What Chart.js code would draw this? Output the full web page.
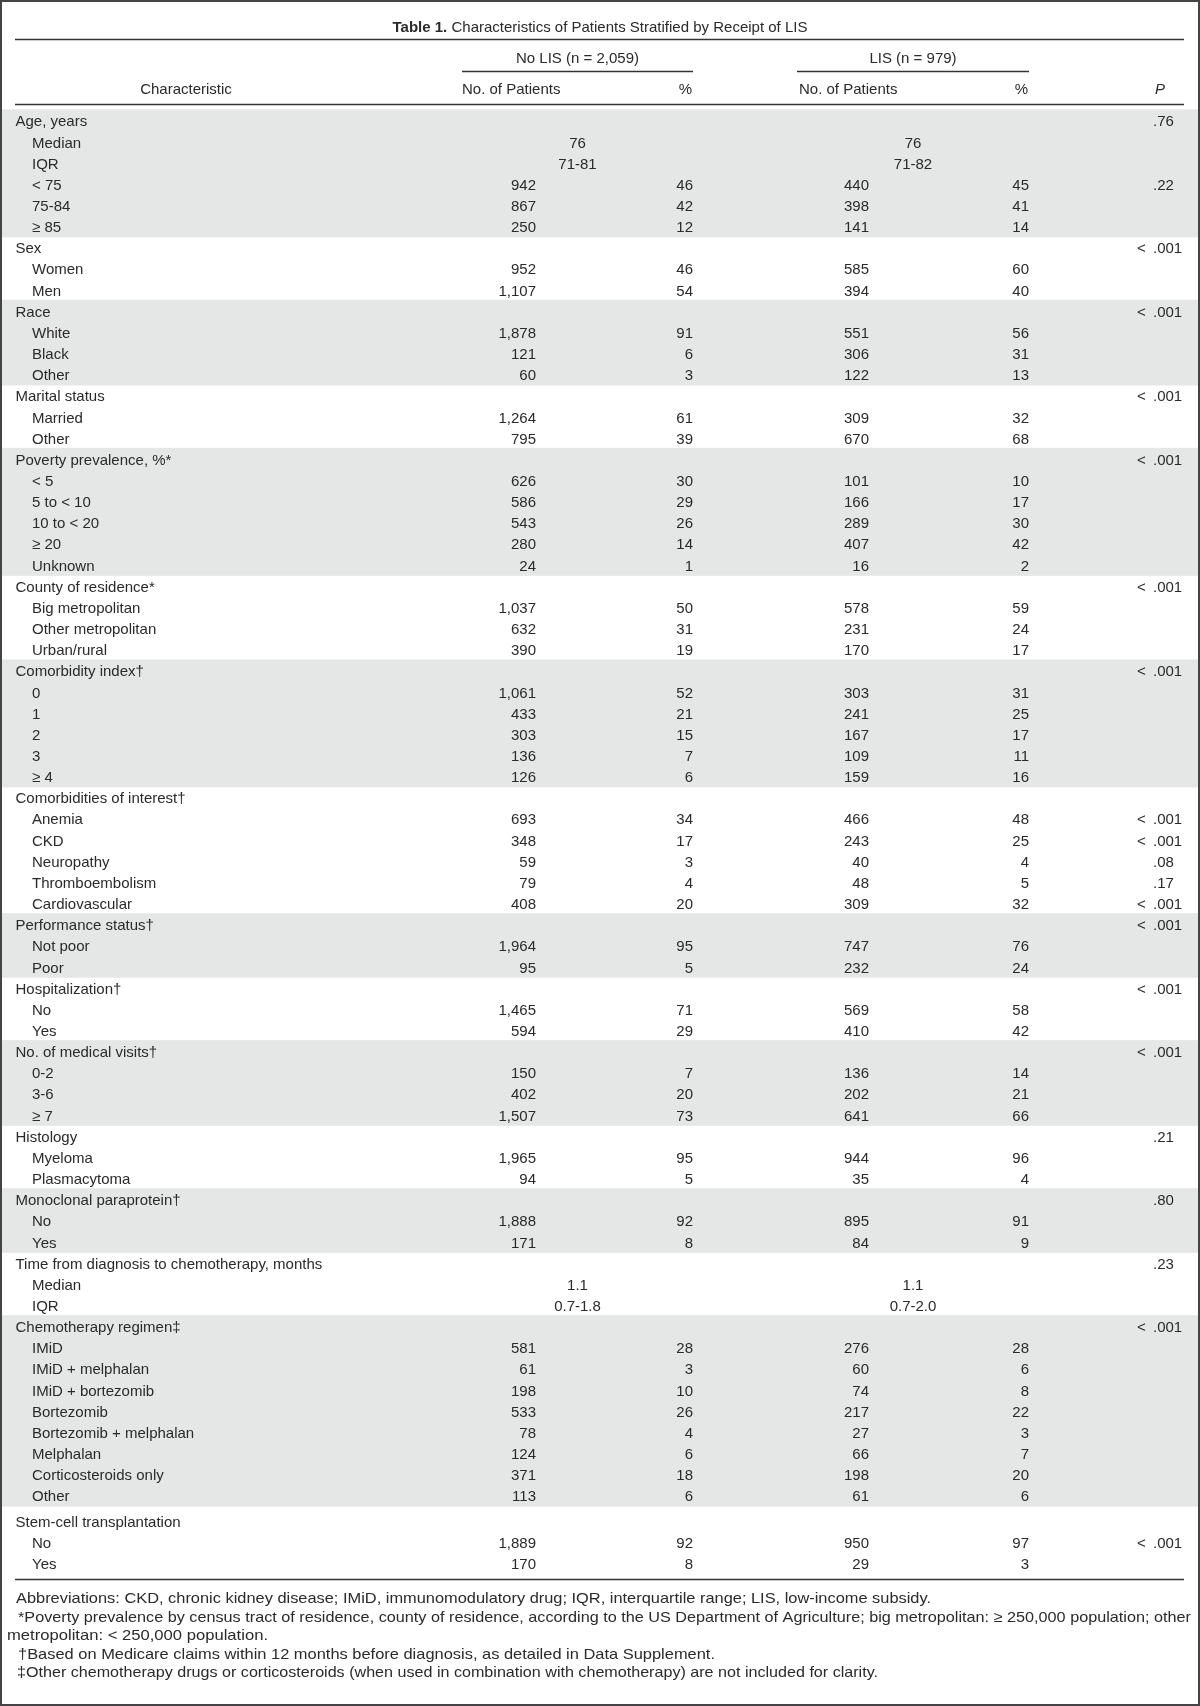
<!DOCTYPE html>
<html>
<head>
<meta charset="utf-8">
<script src="https://cdn.jsdelivr.net/npm/chart.js@4.4.1/dist/chart.umd.min.js"></script>
<style>
html,body{margin:0;padding:0;background:#fff;}
#wrap{width:1200px;height:1706px;}
canvas{display:block;}
</style>
</head>
<body>
<div id="wrap"><canvas id="c" width="1200" height="1706"></canvas></div>
<script>
// ---------------- DATA ----------------
const titleBold = 'Table 1.';
const titleText = 'Characteristics of Patients Stratified by Receipt of LIS';
const groupTitles = ['No LIS (n = 2,059)', 'LIS (n = 979)'];
const columnHeaders = ['Characteristic', 'No. of Patients', '%', 'No. of Patients', '%', 'P'];

const groupHeaders = [
  'Age, years', 'Sex', 'Race', 'Marital status', 'Poverty prevalence, %*',
  'County of residence*', 'Comorbidity index\u2020', 'Comorbidities of interest\u2020',
  'Performance status\u2020', 'Hospitalization\u2020', 'No. of medical visits\u2020',
  'Histology', 'Monoclonal paraprotein\u2020', 'Time from diagnosis to chemotherapy, months',
  'Chemotherapy regimen\u2021', 'Stem-cell transplantation'
];

const characteristics = [
  'Age, years', 'Median', 'IQR', '< 75', '75-84', '\u2265 85',
  'Sex', 'Women', 'Men',
  'Race', 'White', 'Black', 'Other',
  'Marital status', 'Married', 'Other',
  'Poverty prevalence, %*', '< 5', '5 to < 10', '10 to < 20', '\u2265 20', 'Unknown',
  'County of residence*', 'Big metropolitan', 'Other metropolitan', 'Urban/rural',
  'Comorbidity index\u2020', '0', '1', '2', '3', '\u2265 4',
  'Comorbidities of interest\u2020', 'Anemia', 'CKD', 'Neuropathy', 'Thromboembolism', 'Cardiovascular',
  'Performance status\u2020', 'Not poor', 'Poor',
  'Hospitalization\u2020', 'No', 'Yes',
  'No. of medical visits\u2020', '0-2', '3-6', '\u2265 7',
  'Histology', 'Myeloma', 'Plasmacytoma',
  'Monoclonal paraprotein\u2020', 'No', 'Yes',
  'Time from diagnosis to chemotherapy, months', 'Median', 'IQR',
  'Chemotherapy regimen\u2021', 'IMiD', 'IMiD + melphalan', 'IMiD + bortezomib', 'Bortezomib',
  'Bortezomib + melphalan', 'Melphalan', 'Corticosteroids only', 'Other',
  'Stem-cell transplantation', 'No', 'Yes'
];

const noLisCount = [
  null, null, null, 942, 867, 250,
  null, 952, 1107,
  null, 1878, 121, 60,
  null, 1264, 795,
  null, 626, 586, 543, 280, 24,
  null, 1037, 632, 390,
  null, 1061, 433, 303, 136, 126,
  null, 693, 348, 59, 79, 408,
  null, 1964, 95,
  null, 1465, 594,
  null, 150, 402, 1507,
  null, 1965, 94,
  null, 1888, 171,
  null, null, null,
  null, 581, 61, 198, 533, 78, 124, 371, 113,
  null, 1889, 170
];

const noLisPct = [
  null, null, null, 46, 42, 12,
  null, 46, 54,
  null, 91, 6, 3,
  null, 61, 39,
  null, 30, 29, 26, 14, 1,
  null, 50, 31, 19,
  null, 52, 21, 15, 7, 6,
  null, 34, 17, 3, 4, 20,
  null, 95, 5,
  null, 71, 29,
  null, 7, 20, 73,
  null, 95, 5,
  null, 92, 8,
  null, null, null,
  null, 28, 3, 10, 26, 4, 6, 18, 6,
  null, 92, 8
];

const lisCount = [
  null, null, null, 440, 398, 141,
  null, 585, 394,
  null, 551, 306, 122,
  null, 309, 670,
  null, 101, 166, 289, 407, 16,
  null, 578, 231, 170,
  null, 303, 241, 167, 109, 159,
  null, 466, 243, 40, 48, 309,
  null, 747, 232,
  null, 569, 410,
  null, 136, 202, 641,
  null, 944, 35,
  null, 895, 84,
  null, null, null,
  null, 276, 60, 74, 217, 27, 66, 198, 61,
  null, 950, 29
];

const lisPct = [
  null, null, null, 45, 41, 14,
  null, 60, 40,
  null, 56, 31, 13,
  null, 32, 68,
  null, 10, 17, 30, 42, 2,
  null, 59, 24, 17,
  null, 31, 25, 17, 11, 16,
  null, 48, 25, 4, 5, 32,
  null, 76, 24,
  null, 58, 42,
  null, 14, 21, 66,
  null, 96, 4,
  null, 91, 9,
  null, null, null,
  null, 28, 6, 8, 22, 3, 7, 20, 6,
  null, 97, 3
];

const noLisSummary = [
  null, '76', '71-81', null, null, null,
  null, null, null, null, null, null, null, null, null, null,
  null, null, null, null, null, null, null, null, null, null,
  null, null, null, null, null, null, null, null, null, null, null, null,
  null, null, null, null, null, null, null, null, null, null, null, null, null, null, null, null,
  null, '1.1', '0.7-1.8',
  null, null, null, null, null, null, null, null, null,
  null, null, null
];

const lisSummary = [
  null, '76', '71-82', null, null, null,
  null, null, null, null, null, null, null, null, null, null,
  null, null, null, null, null, null, null, null, null, null,
  null, null, null, null, null, null, null, null, null, null, null, null,
  null, null, null, null, null, null, null, null, null, null, null, null, null, null, null, null,
  null, '1.1', '0.7-2.0',
  null, null, null, null, null, null, null, null, null,
  null, null, null
];

const pValues = [
  '.76', null, null, '.22', null, null,
  '< .001', null, null,
  '< .001', null, null, null,
  '< .001', null, null,
  '< .001', null, null, null, null, null,
  '< .001', null, null, null,
  '< .001', null, null, null, null, null,
  null, '< .001', '< .001', '.08', '.17', '< .001',
  '< .001', null, null,
  '< .001', null, null,
  '< .001', null, null, null,
  '.21', null, null,
  '.80', null, null,
  '.23', null, null,
  '< .001', null, null, null, null, null, null, null, null,
  null, '< .001', null
];

const footnotes = [
  'Abbreviations: CKD, chronic kidney disease; IMiD, immunomodulatory drug; IQR, interquartile range; LIS, low-income subsidy.',
  '*Poverty prevalence by census tract of residence, county of residence, according to the US Department of Agriculture; big metropolitan: \u2265 250,000 population; other',
  'metropolitan: < 250,000 population.',
  '\u2020Based on Medicare claims within 12 months before diagnosis, as detailed in Data Supplement.',
  '\u2021Other chemotherapy drugs or corticosteroids (when used in combination with chemotherapy) are not included for clarity.'
];

// ---------------- LAYOUT / STYLE ----------------
const FONT = '"Liberation Sans", Arial, Helvetica, sans-serif';
const TXT = '#2a2a2a';
const RULE = '#333333';
const BAND = '#e5e6e6';
const COL = { label0: 15.5, label1: 32, noN: 536, noPct: 693, noMid: 577.5, lisN: 869, lisPct: 1029, lisMid: 913, pDot: 1153 };
const GAP_AFTER = 66;   // small extra gap before last group
const GAP = 0.19;

const headerSet = new Set(groupHeaders);
const rowPos = i => i + (i >= GAP_AFTER ? GAP : 0);
const fmt = v => v.toLocaleString('en-US');

// group membership (for alternate shading)
const groupOfRow = [];
let g = -1;
characteristics.forEach((t, i) => { if (headerSet.has(t)) g++; groupOfRow.push(g); });

function makeDataset(arr, xKey, align, toText) {
  const data = [], texts = [];
  arr.forEach((v, i) => {
    if (v === null || v === undefined) return;
    const x = typeof xKey === 'function' ? xKey(i) : COL[xKey];
    data.push({ x: x, y: rowPos(i) });
    texts.push(toText ? toText(v) : String(v));
  });
  return { data, texts, align, pointRadius: 0, pointHoverRadius: 0, showLine: false };
}

const datasets = [
  makeDataset(characteristics, i => headerSet.has(characteristics[i]) ? COL.label0 : COL.label1, 'left'),
  makeDataset(noLisCount, 'noN', 'right', fmt),
  makeDataset(noLisPct, 'noPct', 'right', fmt),
  makeDataset(lisCount, 'lisN', 'right', fmt),
  makeDataset(lisPct, 'lisPct', 'right', fmt),
  makeDataset(noLisSummary, 'noMid', 'center'),
  makeDataset(lisSummary, 'lisMid', 'center'),
  makeDataset(pValues, 'pDot', 'decimal')
];

const CAP = 5.4; // offset from cap-center to alphabetic baseline

const tablePlugin = {
  id: 'tableDraw',
  beforeDatasetsDraw(chart) {
    const ctx = chart.ctx, ys = chart.scales.y, xs = chart.scales.x;
    ctx.save();
    ctx.fillStyle = '#ffffff';
    ctx.fillRect(0, 0, chart.width, chart.height);
    const nGroups = groupOfRow[groupOfRow.length - 1] + 1;
    for (let k = 0; k < nGroups; k += 2) {
      const rows = groupOfRow.map((gg, i) => gg === k ? i : -1).filter(i => i >= 0);
      const top = ys.getPixelForValue(rowPos(rows[0]) - 0.55);
      const bot = ys.getPixelForValue(rowPos(rows[rows.length - 1]) + 0.5);
      ctx.fillStyle = BAND;
      ctx.fillRect(xs.getPixelForValue(2), top, xs.getPixelForValue(1198) - xs.getPixelForValue(2), bot - top);
    }
    ctx.restore();
  },
  afterDatasetsDraw(chart) {
    const ctx = chart.ctx, ys = chart.scales.y, xs = chart.scales.x;
    const X = v => xs.getPixelForValue(v), Y = v => ys.getPixelForValue(v);
    ctx.save();
    ctx.font = '15px ' + FONT;
    ctx.fillStyle = TXT;
    ctx.textBaseline = 'alphabetic';
    chart.data.datasets.forEach((ds, di) => {
      const meta = chart.getDatasetMeta(di);
      meta.data.forEach((el, i) => {
        const t = ds.texts[i];
        const y = el.y + CAP;
        if (ds.align === 'decimal') {
          const k = t.indexOf('.');
          const pre = t.slice(0, k), post = t.slice(k);
          ctx.textAlign = 'right'; ctx.fillText(pre, el.x - 3, y);
          ctx.textAlign = 'left'; ctx.fillText(post, el.x, y);
        } else {
          ctx.textAlign = ds.align;
          ctx.fillText(t, el.x, y);
        }
      });
    });

    // rules
    ctx.strokeStyle = RULE;
    ctx.lineWidth = 1.6;
    const hline = (x0, x1, yv) => { const y = Math.round(Y(yv)) + 0.5; ctx.beginPath(); ctx.moveTo(X(x0), y); ctx.lineTo(X(x1), y); ctx.stroke(); };
    hline(15, 1184, -3.853);
    hline(15, 1184, -0.804);
    hline(462, 693, -2.387);
    hline(797, 1029, -2.387);
    hline(15, 1184, 68.92);

    // title
    ctx.textAlign = 'left';
    ctx.font = 'bold 15px "Liberation Sans Narrow", ' + FONT;
    const wB = ctx.measureText(titleBold + ' ').width;
    ctx.font = '15px ' + FONT;
    const wT = ctx.measureText(titleText).width;
    const tx = X(600) - (wB + wT) / 2;
    const ty = Y(-4.444) + CAP;
    ctx.font = 'bold 15px "Liberation Sans Narrow", ' + FONT;
    ctx.fillText(titleBold, tx, ty);
    ctx.font = '15px ' + FONT;
    ctx.fillText(titleText, tx + wB, ty);

    // group titles
    ctx.textAlign = 'center';
    ctx.fillText(groupTitles[0], X(COL.noMid), Y(-2.978) + CAP);
    ctx.fillText(groupTitles[1], X(COL.lisMid), Y(-2.978) + CAP);

    // column headers
    const hy = Y(-1.513) + CAP;
    ctx.textAlign = 'center'; ctx.fillText(columnHeaders[0], X(186), hy);
    ctx.textAlign = 'left'; ctx.fillText(columnHeaders[1], X(462), hy);
    ctx.textAlign = 'right'; ctx.fillText(columnHeaders[2], X(692), hy);
    ctx.textAlign = 'left'; ctx.fillText(columnHeaders[3], X(799), hy);
    ctx.textAlign = 'right'; ctx.fillText(columnHeaders[4], X(1028), hy);
    ctx.font = 'italic 15px ' + FONT;
    ctx.textAlign = 'left'; ctx.fillText(columnHeaders[5], X(1155), hy);

    // footnotes
    ctx.font = '15px ' + FONT;
    ctx.textAlign = 'left';
    const fnX = [16, 18, 7, 18, 17];
    const fnEnd = [931, 1191, 268, 715, 878];
    const fnY = [69.82, 70.72, 71.57, 72.47, 73.32];
    footnotes.forEach((t, i) => {
      const w = ctx.measureText(t).width;
      const target = X(fnEnd[i]) - X(fnX[i]);
      ctx.save();
      ctx.translate(X(fnX[i]), Y(fnY[i]) + CAP);
      ctx.scale(target / w, 1);
      ctx.fillText(t, 0, 0);
      ctx.restore();
    });

    // outer frame
    ctx.strokeStyle = '#444444';
    ctx.lineWidth = 2;
    ctx.strokeRect(1, 1, chart.width - 2, chart.height - 2);
    ctx.restore();
  }
};

new Chart(document.getElementById('c'), {
  type: 'scatter',
  data: { datasets },
  options: {
    responsive: false,
    maintainAspectRatio: false,
    animation: false,
    devicePixelRatio: 1,
    events: [],
    layout: { padding: 0 },
    plugins: { legend: { display: false }, tooltip: { enabled: false }, title: { display: false } },
    scales: {
      x: { type: 'linear', display: false, min: 0, max: 1200 },
      y: { type: 'linear', display: false, min: -5.720, max: 74.927, reverse: true }
    }
  },
  plugins: [tablePlugin]
});
</script>
</body>
</html>
